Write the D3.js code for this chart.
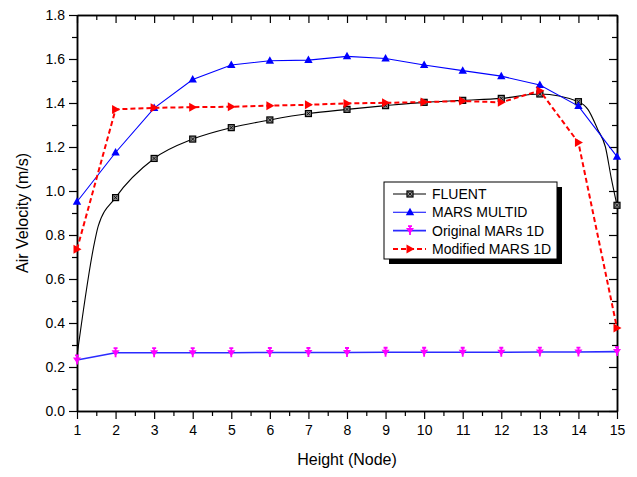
<!DOCTYPE html>
<html>
<head>
<meta charset="utf-8">
<script src="https://cdn.jsdelivr.net/npm/d3@7"></script>
<style>
  body { margin: 0; background: #fff; }
  text { font-family: Arial, "Liberation Sans", sans-serif; }
</style>
</head>
<body>
<div id="chart"></div>
<script>
// node positions and velocities
const nodes = [1, 2, 3, 4, 5, 6, 7, 8, 9, 10, 11, 12, 13, 14, 15];

// FLUENT curve has a few extra points between nodes
const fluentX = [1, 1.47, 1.55, 2, 3, 4, 5, 6, 7, 8, 9, 10, 11, 12, 13, 14, 14.25, 14.5, 14.7, 14.85, 15];
const fluentY = [0.25, 0.78, 0.84, 0.97, 1.148, 1.236, 1.288, 1.323, 1.352, 1.371, 1.388, 1.403, 1.412, 1.421, 1.441, 1.406, 1.37, 1.28, 1.2, 1.06, 0.935];

const marsMulti = [0.951, 1.175, 1.377, 1.507, 1.573, 1.592, 1.595, 1.612, 1.602, 1.573, 1.547, 1.522, 1.482, 1.386, 1.156];
const origMars1D = [0.232, 0.265, 0.265, 0.265, 0.265, 0.266, 0.266, 0.266, 0.267, 0.267, 0.267, 0.267, 0.268, 0.268, 0.27];
const modMars1D = [0.735, 1.371, 1.378, 1.381, 1.383, 1.388, 1.392, 1.398, 1.401, 1.404, 1.409, 1.403, 1.456, 1.22, 0.377];

const xTicks = nodes;
const yTicks = [0, 0.2, 0.4, 0.6, 0.8, 1.0, 1.2, 1.4, 1.6, 1.8];

const width = 637, height = 477;
const margin = { top: 15, right: 20, bottom: 66, left: 77 };

const svg = d3.select("#chart")
  .append("svg")
  .attr("width", width)
  .attr("height", height);

const x = d3.scaleLinear()
  .domain([1, 15])
  .range([margin.left, width - margin.right]);

const y = d3.scaleLinear()
  .domain([0, 1.8])
  .range([height - margin.bottom, margin.top]);

// axes: left/bottom ticks outward, top/right ticks inward
const minorX = d3.range(1.5, 15, 1);
const minorY = d3.range(0.1, 1.8, 0.2);

const styleAxis = g => {
  g.select(".domain").attr("stroke-width", 1.5);
  g.selectAll(".tick line").attr("stroke-width", 1.2);
  g.selectAll("text").style("font-size", "14px").attr("fill", "#000");
};

svg.append("g")
  .attr("transform", `translate(0,${y(0)})`)
  .call(d3.axisBottom(x).tickValues(xTicks).tickFormat(d3.format("d")).tickSize(8).tickSizeOuter(0).tickPadding(6))
  .call(styleAxis);
svg.append("g")
  .attr("transform", `translate(0,${y(0)})`)
  .call(d3.axisBottom(x).tickValues(minorX).tickFormat("").tickSize(5).tickSizeOuter(0))
  .call(styleAxis);

svg.append("g")
  .attr("transform", `translate(${x(1)},0)`)
  .call(d3.axisLeft(y).tickValues(yTicks).tickFormat(d3.format(".1f")).tickSize(8).tickSizeOuter(0).tickPadding(4))
  .call(styleAxis);
svg.append("g")
  .attr("transform", `translate(${x(1)},0)`)
  .call(d3.axisLeft(y).tickValues(minorY).tickFormat("").tickSize(5).tickSizeOuter(0))
  .call(styleAxis);

svg.append("g")
  .attr("transform", `translate(0,${y(1.8)})`)
  .call(d3.axisTop(x).tickValues(xTicks).tickFormat("").tickSize(-8).tickSizeOuter(0))
  .call(styleAxis);
svg.append("g")
  .attr("transform", `translate(0,${y(1.8)})`)
  .call(d3.axisTop(x).tickValues(minorX).tickFormat("").tickSize(-5).tickSizeOuter(0))
  .call(styleAxis);

svg.append("g")
  .attr("transform", `translate(${x(15)},0)`)
  .call(d3.axisRight(y).tickValues(yTicks).tickFormat("").tickSize(-8).tickSizeOuter(0))
  .call(styleAxis);
svg.append("g")
  .attr("transform", `translate(${x(15)},0)`)
  .call(d3.axisRight(y).tickValues(minorY).tickFormat("").tickSize(-5).tickSizeOuter(0))
  .call(styleAxis);

// axis titles
svg.append("text")
  .attr("x", (x(1) + x(15)) / 2)
  .attr("y", 465)
  .attr("text-anchor", "middle")
  .style("font-size", "16px")
  .text("Height (Node)");

svg.append("text")
  .attr("transform", `translate(28,${(y(0) + y(1.8)) / 2}) rotate(-90)`)
  .attr("text-anchor", "middle")
  .style("font-size", "16px")
  .text("Air Velocity (m/s)");

// marker drawers
function squareMark(g, cx, cy) {
  g.append("rect").attr("x", cx - 3).attr("y", cy - 3).attr("width", 6).attr("height", 6)
    .attr("fill", "#888").attr("stroke", "#000").attr("stroke-width", 1.2);
  g.append("path").attr("d", `M${cx - 1.8},${cy - 1.8}L${cx + 1.8},${cy + 1.8}M${cx + 1.8},${cy - 1.8}L${cx - 1.8},${cy + 1.8}`)
    .attr("stroke", "#000").attr("stroke-width", 0.8);
}
function upTri(g, cx, cy, color) {
  g.append("path").attr("d", `M${cx},${cy - 4.5}L${cx + 4.2},${cy + 3}L${cx - 4.2},${cy + 3}Z`).attr("fill", color);
}
function downTri(g, cx, cy, color) {
  g.append("path").attr("d", `M${cx - 4},${cy - 2.5}L${cx + 4},${cy - 2.5}L${cx},${cy + 3.5}Z`).attr("fill", color);
  g.append("path").attr("d", `M${cx},${cy - 5}V${cy + 4.5}M${cx - 2},${cy - 4.5}H${cx + 2}`).attr("stroke", color).attr("stroke-width", 1.8);
}
function rightTri(g, cx, cy, color) {
  g.append("path").attr("d", `M${cx - 3.5},${cy - 4.5}L${cx + 4.5},${cy}L${cx - 3.5},${cy + 4.5}Z`).attr("fill", color);
}

const line = d3.line().x(d => x(d[0])).y(d => y(d[1]));
const smooth = d3.line().x(d => x(d[0])).y(d => y(d[1])).curve(d3.curveMonotoneX);

const series = [
  { name: "FLUENT", pts: fluentX.map((v, i) => [v, fluentY[i]]), color: "#000", width: 1.1, dash: null, gen: smooth,
    mark: (g, cx, cy) => squareMark(g, cx, cy), marks: fluentX.map((v, i) => [v, fluentY[i]]).filter(d => Number.isInteger(d[0]) && d[0] > 1) },
  { name: "MARS MULTID", pts: nodes.map((v, i) => [v, marsMulti[i]]), color: "#0000ff", width: 1.1, dash: null, gen: line,
    mark: (g, cx, cy) => upTri(g, cx, cy, "#0000ff") },
  { name: "Original  MARs 1D", pts: nodes.map((v, i) => [v, origMars1D[i]]), color: "#2b2bff", width: 1.6, dash: null, gen: line,
    mark: (g, cx, cy) => downTri(g, cx, cy, "#ff00ff") },
  { name: "Modified MARS 1D", pts: nodes.map((v, i) => [v, modMars1D[i]]), color: "#ff0000", width: 2, dash: "5,3", gen: line,
    mark: (g, cx, cy) => rightTri(g, cx, cy, "#ff0000") }
];

const plot = svg.append("g");
series.forEach(s => {
  plot.append("path")
    .datum(s.pts)
    .attr("fill", "none")
    .attr("stroke", s.color)
    .attr("stroke-width", s.width)
    .attr("stroke-dasharray", s.dash)
    .attr("d", s.gen);
  const mg = plot.append("g");
  (s.marks || s.pts).forEach(d => s.mark(mg, x(d[0]), y(d[1])));
});

// legend with drop shadow
const lg = svg.append("g").attr("transform", "translate(384,182)");
lg.append("rect").attr("x", 5).attr("y", 5).attr("width", 173).attr("height", 77).attr("fill", "#000");
lg.append("rect").attr("x", 0).attr("y", 0).attr("width", 173).attr("height", 77)
  .attr("fill", "#fff").attr("stroke", "#000").attr("stroke-width", 1);

series.forEach((s, i) => {
  const cy = 12 + i * 18.3;
  lg.append("line").attr("x1", 9).attr("x2", 42).attr("y1", cy).attr("y2", cy)
    .attr("stroke", s.color).attr("stroke-width", s.width).attr("stroke-dasharray", s.dash);
  s.mark(lg, 26, cy);
  lg.append("text").attr("x", 48).attr("y", cy + 5).style("font-size", "14px").text(s.name);
});
</script>
</body>
</html>
